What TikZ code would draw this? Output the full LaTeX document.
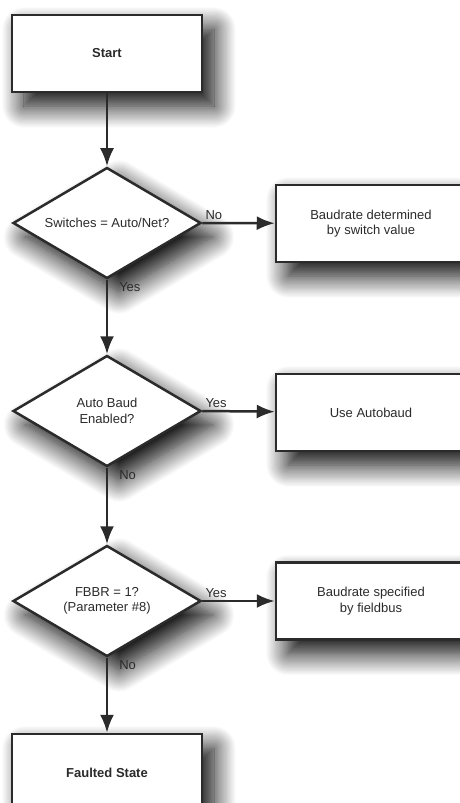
\documentclass[tikz,border=0pt]{standalone}
\usepackage{fontspec}
\setmainfont{Liberation Sans}
\usetikzlibrary{shapes.geometric,shadows.blur,arrows.meta}
\definecolor{ink}{HTML}{2B2B2B}
\begin{document}
\begin{tikzpicture}
	[x=1pt,y=-1pt,font=\fontsize{13}{15.5}\selectfont,
	box/.style={rectangle,draw=ink,line width=2.5pt,fill=white,minimum width=190pt,minimum height=77pt,align=center,text=ink,
		blur shadow={shadow xshift=12pt,shadow yshift=-14pt,shadow blur radius=22pt,shadow blur steps=20,shadow opacity=100}},
	dec/.style={diamond,aspect=1.7,draw=ink,line width=2.5pt,fill=white,minimum width=188pt,minimum height=111pt,inner sep=0pt,align=center,text=ink,
		blur shadow={shadow xshift=12pt,shadow yshift=-14pt,shadow blur radius=22pt,shadow blur steps=20,shadow opacity=100}},
	flow/.style={draw=ink,line width=2.5pt,-{Latex[length=18pt,width=14pt]}},
	lbl/.style={text=ink,inner sep=2pt}]
\useasboundingbox (0,0) rectangle (460,803);
\clip (0,0) rectangle (460,803);
\node[box,font=\fontsize{13}{15.5}\selectfont\bfseries] (start) at (107,53.5) {Start};
\node[dec] (sw) at (107,223) {Switches = Auto/Net?};
\node[box] (swval) at (371,223.5) {Baudrate determined\\by switch value};
\node[dec] (ab) at (107,411) {Auto Baud\\Enabled?};
\node[box] (useab) at (371,412.5) {Use Autobaud};
\node[dec] (fbbr) at (107,601) {FBBR = 1?\\(Parameter \#8)};
\node[box] (fbus) at (371,601) {Baudrate specified\\by fieldbus};
\node[box,font=\fontsize{13}{15.5}\selectfont\bfseries] (fault) at (107,772.5) {Faulted State};
\draw[flow](start)--(sw);
\draw[flow](sw.east)--node[lbl,pos=0,anchor=south west]{No}(swval);
\draw[flow](sw.south)--node[lbl,pos=0,anchor=north west,xshift=9pt]{Yes}(ab.north);
\draw[flow](ab.east)--node[lbl,pos=0,anchor=south west]{Yes}(useab);
\draw[flow](ab.south)--node[lbl,pos=0,anchor=north west,xshift=9pt]{No}(fbbr.north);
\draw[flow](fbbr.east)--node[lbl,pos=0,anchor=south west]{Yes}(fbus);
\draw[flow](fbbr.south)--node[lbl,pos=0,anchor=north west,xshift=9pt]{No}(fault.north);
\end{tikzpicture}
\end{document}
